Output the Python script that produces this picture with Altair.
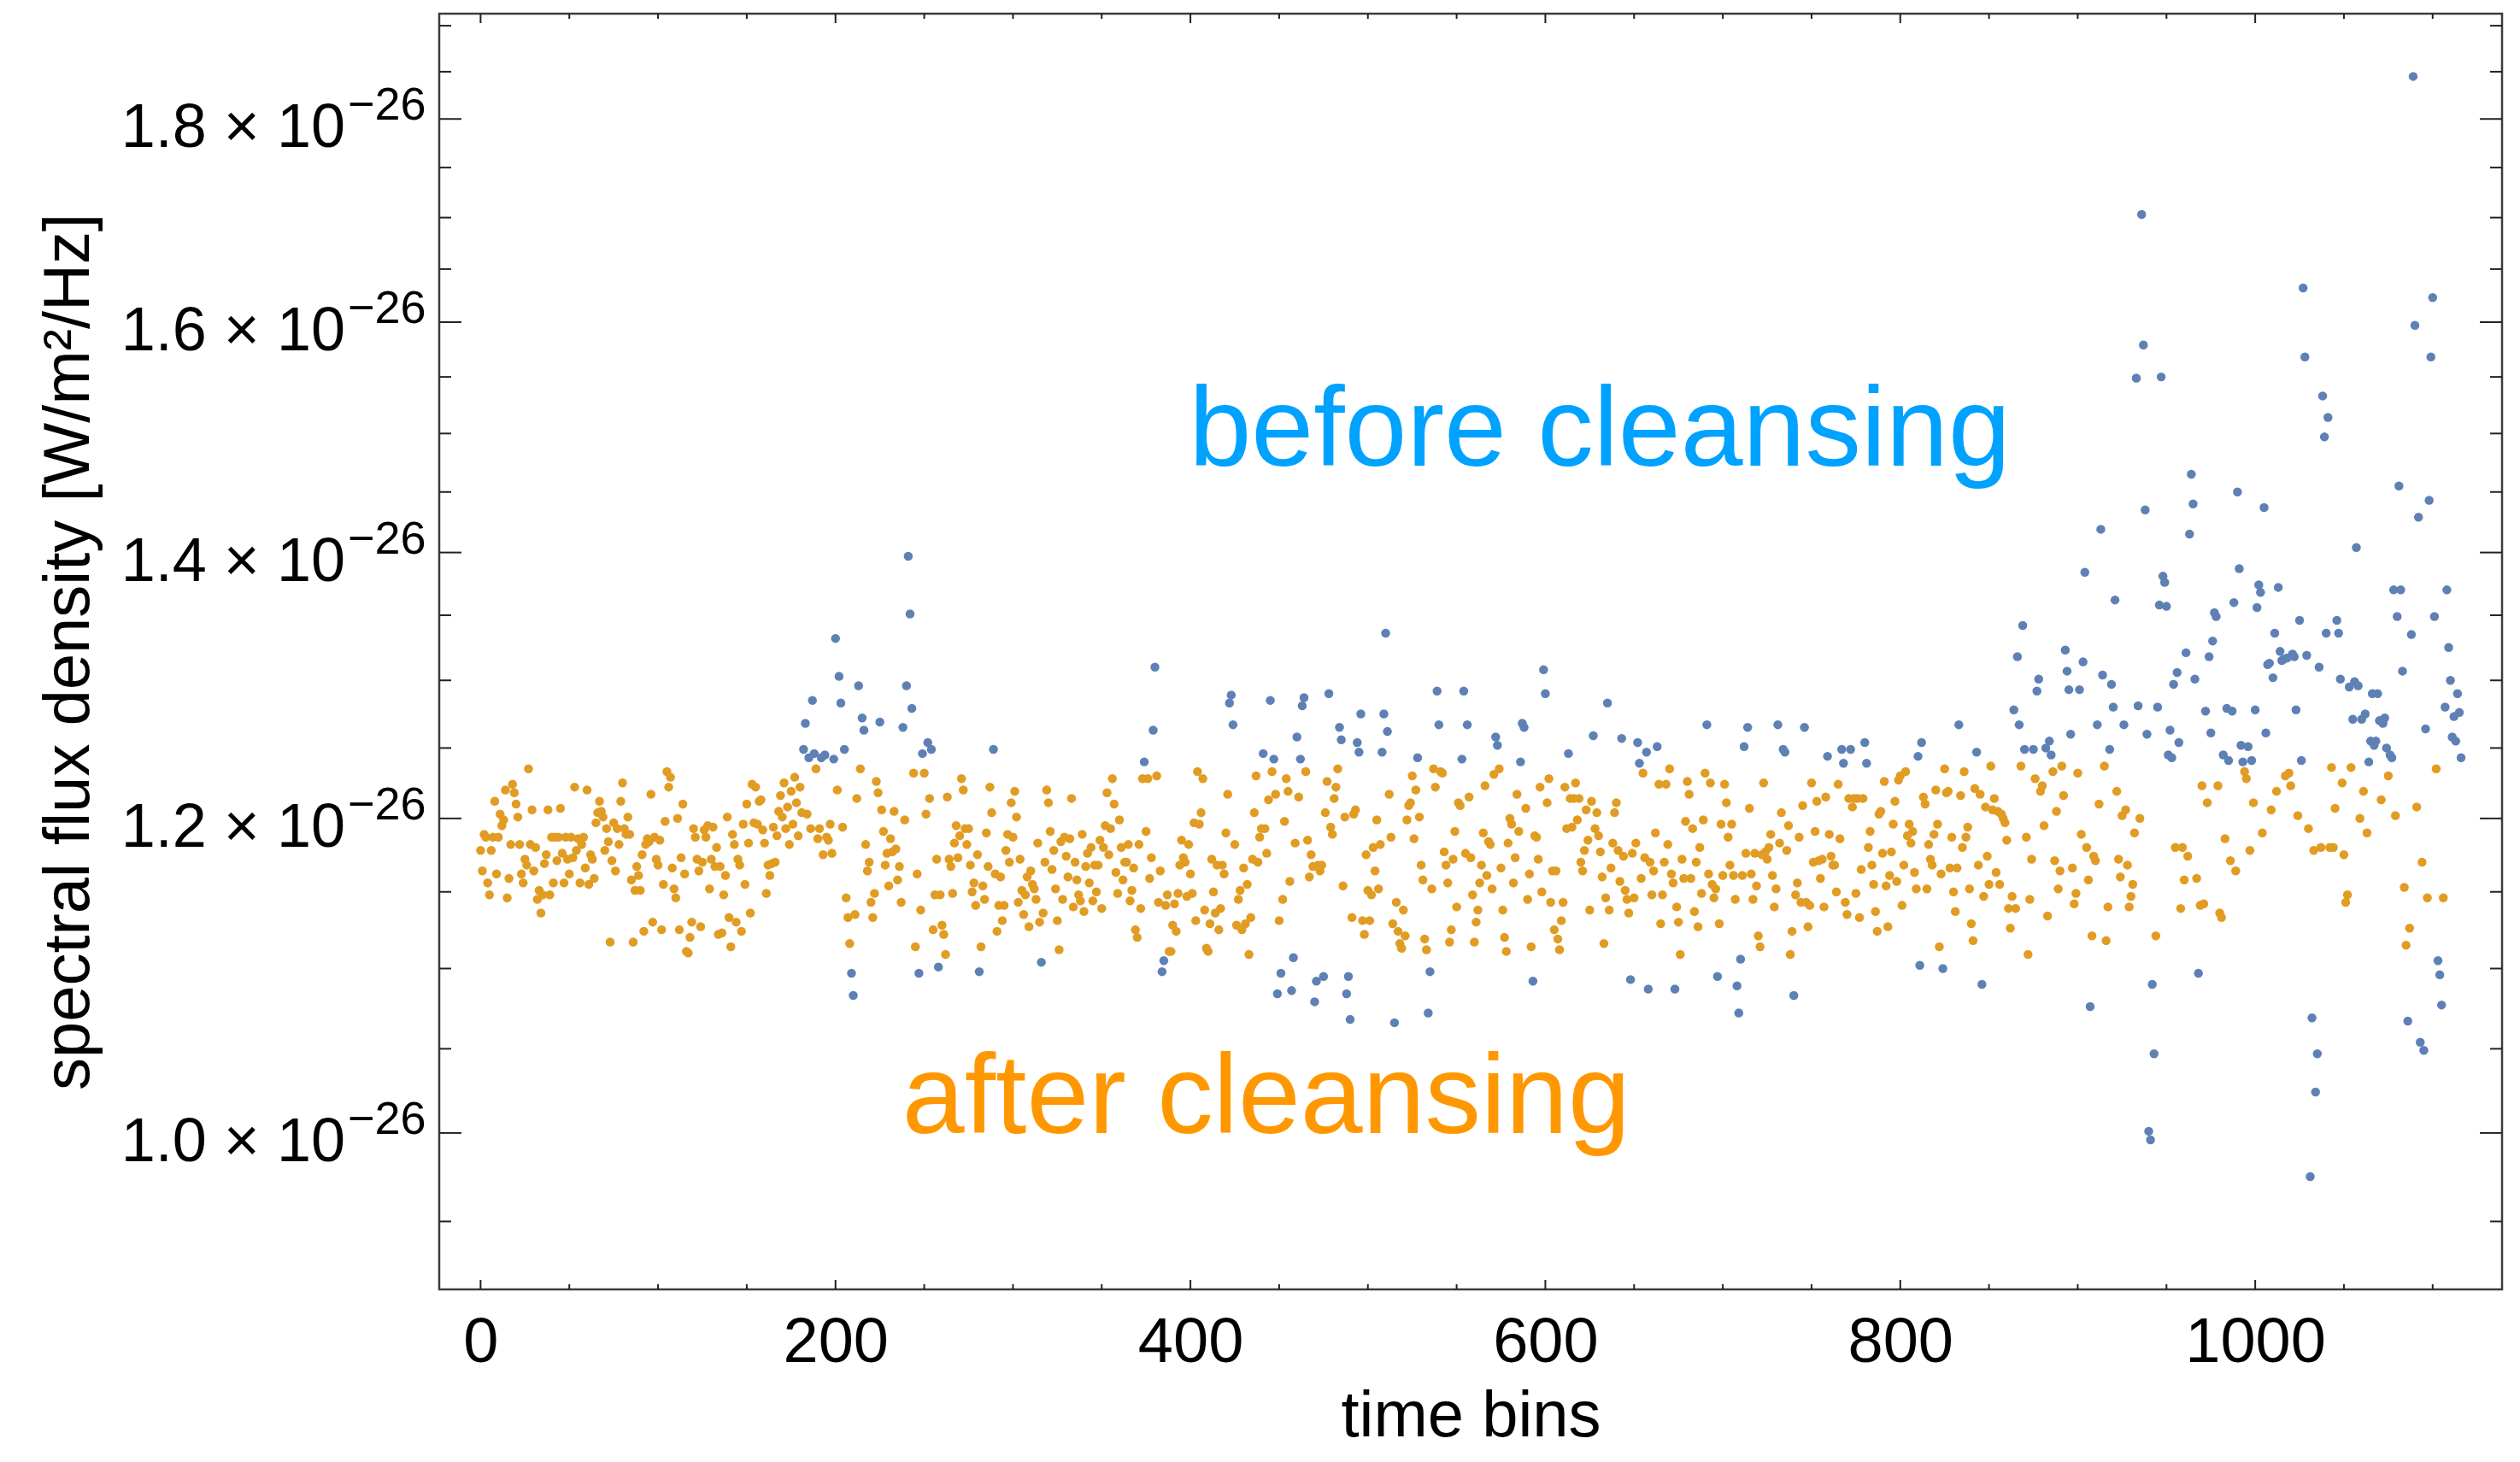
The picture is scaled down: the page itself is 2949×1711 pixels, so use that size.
import altair as alt
import pandas as pd

W, H = 2414, 1493
FONT = "Liberation Sans"
BLUE = "#5E81B5"
ORANGE = "#E19C24"
TICK = "#222222"

# spectral flux density per time bin, in units of 1e-26 W/m^2/Hz (bins 0..1116)
flux = [
    1.178, 1.164, 1.189, 1.187, 1.156, 1.148, 1.178, 1.187, 1.212, 1.162,
    1.187, 1.203, 1.195, 1.199, 1.220, 1.146, 1.159, 1.182, 1.224, 1.218,
    1.210, 1.201, 1.182, 1.162, 1.156, 1.172, 1.168, 1.235, 1.182, 1.206,
    1.164, 1.180, 1.145, 1.151, 1.136, 1.148, 1.169, 1.175, 1.206, 1.148,
    1.187, 1.156, 1.187, 1.171, 1.187, 1.207, 1.176, 1.156, 1.187, 1.172,
    1.162, 1.187, 1.173, 1.222, 1.178, 1.186, 1.156, 1.182, 1.187, 1.166,
    1.220, 1.155, 1.175, 1.172, 1.159, 1.197, 1.204, 1.212, 1.205, 1.201,
    1.178, 1.193, 1.184, 1.117, 1.171, 1.197, 1.164, 1.193, 1.182, 1.212,
    1.225, 1.193, 1.189, 1.201, 1.189, 1.158, 1.117, 1.151, 1.167, 1.161,
    1.151, 1.175, 1.124, 1.182, 1.186, 1.184, 1.217, 1.130, 1.187, 1.172,
    1.168, 1.185, 1.125, 1.155, 1.198, 1.233, 1.222, 1.229, 1.166, 1.152,
    1.146, 1.200, 1.125, 1.173, 1.210, 1.162, 1.111, 1.110, 1.120, 1.130,
    1.193, 1.187, 1.172, 1.164, 1.127, 1.170, 1.192, 1.187, 1.195, 1.152,
    1.172, 1.194, 1.167, 1.180, 1.122, 1.167, 1.123, 1.148, 1.161, 1.201,
    1.133, 1.114, 1.189, 1.182, 1.130, 1.172, 1.168, 1.124, 1.196, 1.155,
    1.210, 1.183, 1.136, 1.224, 1.197, 1.222, 1.196, 1.212, 1.213, 1.192,
    1.183, 1.149, 1.168, 1.161, 1.169, 1.194, 1.170, 1.188, 1.205, 1.216,
    1.201, 1.225, 1.193, 1.208, 1.182, 1.219, 1.196, 1.229, 1.211, 1.188,
    1.222, 1.204, 1.249, 1.268, 1.203, 1.243, 1.193, 1.285, 1.246, 1.235,
    1.186, 1.193, 1.243, 1.175, 1.245, 1.187, 1.185, 1.196, 1.176, 1.242,
    1.332, 1.220, 1.303, 1.283, 1.194, 1.249, 1.146, 1.133, 1.116, 1.097,
    1.083, 1.135, 1.214, 1.296, 1.235, 1.272, 1.263, 1.182, 1.164, 1.170,
    1.143, 1.133, 1.149, 1.226, 1.218, 1.269, 1.206, 1.191, 1.168, 1.176,
    1.154, 1.186, 1.177, 1.205, 1.179, 1.158, 1.167, 1.143, 1.265, 1.199,
    1.296, 1.397, 1.351, 1.279, 1.232, 1.114, 1.162, 1.097, 1.138, 1.246,
    1.232, 1.203, 1.254, 1.214, 1.249, 1.125, 1.148, 1.172, 1.101, 1.148,
    1.128, 1.122, 1.109, 1.215, 1.172, 1.167, 1.149, 1.183, 1.195, 1.173,
    1.188, 1.228, 1.220, 1.193, 1.182, 1.193, 1.168, 1.150, 1.156, 1.141,
    1.175, 1.098, 1.114, 1.154, 1.145, 1.190, 1.167, 1.222, 1.204, 1.249,
    1.162, 1.124, 1.141, 1.160, 1.131, 1.141, 1.178, 1.189, 1.170, 1.211,
    1.187, 1.219, 1.201, 1.143, 1.172, 1.151, 1.135, 1.148, 1.160, 1.127,
    1.164, 1.155, 1.152, 1.145, 1.183, 1.130, 1.104, 1.136, 1.170, 1.220,
    1.211, 1.191, 1.165, 1.178, 1.152, 1.131, 1.112, 1.184, 1.145, 1.187,
    1.174, 1.160, 1.186, 1.214, 1.140, 1.170, 1.158, 1.148, 1.144, 1.189,
    1.137, 1.167, 1.176, 1.156, 1.180, 1.144, 1.168, 1.150, 1.168, 1.185,
    1.139, 1.180, 1.195, 1.218, 1.175, 1.193, 1.228, 1.210, 1.163, 1.149,
    1.199, 1.180, 1.158, 1.170, 1.170, 1.182, 1.144, 1.151, 1.166, 1.125,
    1.120, 1.182, 1.139, 1.228, 1.240, 1.191, 1.228, 1.159, 1.173, 1.263,
    1.310, 1.230, 1.143, 1.164, 1.098, 1.105, 1.141, 1.148, 1.111, 1.111,
    1.128, 1.142, 1.124, 1.149, 1.168, 1.185, 1.173, 1.170, 1.147, 1.182,
    1.162, 1.149, 1.197, 1.131, 1.233, 1.196, 1.204, 1.228, 1.138, 1.113,
    1.111, 1.129, 1.172, 1.150, 1.136, 1.168, 1.125, 1.139, 1.168, 1.162,
    1.190, 1.217, 1.283, 1.289, 1.267, 1.182, 1.128, 1.145, 1.151, 1.125,
    1.166, 1.129, 1.155, 1.109, 1.133, 1.172, 1.204, 1.230, 1.170, 1.187,
    1.193, 1.246, 1.193, 1.176, 1.213, 1.285, 1.233, 1.242, 1.217, 1.084,
    1.131, 1.097, 1.145, 1.198, 1.228, 1.219, 1.157, 1.086, 1.107, 1.183,
    1.258, 1.215, 1.242, 1.281, 1.287, 1.233, 1.185, 1.160, 1.175, 1.167,
    1.079, 1.092, 1.168, 1.164, 1.168, 1.095, 1.204, 1.226, 1.290, 1.194,
    1.189, 1.214, 1.222, 1.235, 1.265, 1.256, 1.154, 1.201, 1.084, 1.095,
    1.068, 1.133, 1.203, 1.206, 1.254, 1.247, 1.275, 1.131, 1.122, 1.175,
    1.151, 1.131, 1.148, 1.180, 1.164, 1.199, 1.152, 1.182, 1.247, 1.275,
    1.336, 1.262, 1.217, 1.187, 1.129, 1.066, 1.143, 1.124, 1.116, 1.113,
    1.138, 1.121, 1.199, 1.209, 1.211, 1.230, 1.186, 1.220, 1.243, 1.201,
    1.168, 1.158, 1.119, 1.112, 1.072, 1.098, 1.152, 1.235, 1.222, 1.292,
    1.267, 1.233, 1.232, 1.177, 1.168, 1.156, 1.117, 1.125, 1.172, 1.191,
    1.140, 1.211, 1.209, 1.242, 1.292, 1.176, 1.267, 1.215, 1.173, 1.148,
    1.117, 1.130, 1.138, 1.156, 1.168, 1.190, 1.223, 1.161, 1.184, 1.182,
    1.152, 1.231, 1.258, 1.252, 1.235, 1.166, 1.138, 1.120, 1.111, 1.183,
    1.200, 1.196, 1.156, 1.173, 1.217, 1.191, 1.240, 1.268, 1.265, 1.207,
    1.145, 1.162, 1.114, 1.092, 1.188, 1.187, 1.172, 1.222, 1.150, 1.308,
    1.290, 1.211, 1.228, 1.143, 1.164, 1.125, 1.164, 1.119, 1.112, 1.131,
    1.143, 1.222, 1.193, 1.246, 1.214, 1.194, 1.214, 1.225, 1.199, 1.214,
    1.170, 1.164, 1.178, 1.206, 1.185, 1.138, 1.212, 1.259, 1.193, 1.204,
    1.188, 1.177, 1.160, 1.116, 1.146, 1.283, 1.138, 1.166, 1.183, 1.204,
    1.211, 1.178, 1.157, 1.257, 1.174, 1.151, 1.145, 1.136, 1.093, 1.176,
    1.146, 1.183, 1.254, 1.239, 1.159, 1.232, 1.173, 1.247, 1.087, 1.170,
    1.148, 1.164, 1.190, 1.251, 1.224, 1.129, 1.148, 1.170, 1.224, 1.182,
    1.235, 1.162, 1.156, 1.087, 1.140, 1.130, 1.109, 1.172, 1.159, 1.198,
    1.226, 1.217, 1.159, 1.193, 1.137, 1.170, 1.127, 1.180, 1.149, 1.199,
    1.232, 1.267, 1.162, 1.225, 1.155, 1.146, 1.152, 1.095, 1.129, 1.196,
    1.161, 1.224, 1.211, 1.187, 1.168, 1.196, 1.161, 1.145, 1.089, 1.072,
    1.106, 1.161, 1.251, 1.176, 1.265, 1.207, 1.162, 1.145, 1.176, 1.154,
    1.121, 1.114, 1.175, 1.225, 1.177, 1.172, 1.180, 1.189, 1.161, 1.140,
    1.152, 1.267, 1.183, 1.204, 1.249, 1.247, 1.178, 1.195, 1.109, 1.124,
    1.083, 1.148, 1.156, 1.187, 1.143, 1.209, 1.265, 1.143, 1.127, 1.141,
    1.225, 1.170, 1.191, 1.212, 1.171, 1.159, 1.172, 1.140, 1.215, 1.244,
    1.189, 1.174, 1.168, 1.168, 1.150, 1.224, 1.186, 1.249, 1.239, 1.143,
    1.135, 1.214, 1.249, 1.208, 1.214, 1.149, 1.214, 1.133, 1.165, 1.214,
    1.254, 1.239, 1.180, 1.191, 1.168, 1.155, 1.137, 1.124, 1.203, 1.205,
    1.176, 1.226, 1.154, 1.127, 1.161, 1.177, 1.196, 1.212, 1.157, 1.227,
    1.230, 1.141, 1.168, 1.233, 1.188, 1.196, 1.183, 1.191, 1.163, 1.152,
    1.244, 1.102, 1.254, 1.215, 1.210, 1.152, 1.182, 1.172, 1.168, 1.189,
    1.220, 1.196, 1.114, 1.162, 1.100, 1.235, 1.218, 1.219, 1.166, 1.187,
    1.150, 1.137, 1.166, 1.267, 1.216, 1.180, 1.233, 1.187, 1.194, 1.152,
    1.129, 1.118, 1.221, 1.247, 1.168, 1.217, 1.090, 1.147, 1.208, 1.174,
    1.155, 1.237, 1.206, 1.214, 1.163, 1.205, 1.155, 1.203, 1.200, 1.197,
    1.185, 1.139, 1.126, 1.147, 1.278, 1.139, 1.318, 1.267, 1.237, 1.342,
    1.249, 1.187, 1.109, 1.145, 1.172, 1.249, 1.228, 1.292, 1.301, 1.219,
    1.223, 1.195, 1.250, 1.134, 1.255, 1.245, 1.233, 1.171, 1.205, 1.152,
    1.164, 1.237, 1.216, 1.323, 1.307, 1.293, 1.260, 1.166, 1.142, 1.149,
    1.232, 1.293, 1.189, 1.314, 1.384, 1.180, 1.158, 1.076, 1.121, 1.174,
    1.171, 1.267, 1.210, 1.419, 1.304, 1.237, 1.118, 1.140, 1.249, 1.297,
    1.280, 1.362, 1.219, 1.172, 1.160, 1.202, 1.267, 1.206, 1.168, 1.140,
    1.147, 1.155, 1.190, 1.549, 1.281, 1.200, 1.703, 1.579, 1.435, 1.260,
    1.001, 0.996, 1.090, 1.047, 1.121, 1.280, 1.358, 1.550, 1.381, 1.376,
    1.357, 1.245, 1.263, 1.243, 1.297, 1.180, 1.306, 1.254, 1.139, 1.180,
    1.158, 1.321, 1.174, 1.415, 1.465, 1.440, 1.301, 1.159, 1.097, 1.141,
    1.223, 1.142, 1.277, 1.211, 1.318, 1.261, 1.330, 1.352, 1.349, 1.223,
    1.136, 1.133, 1.245, 1.186, 1.279, 1.241, 1.171, 1.277, 1.360, 1.164,
    1.450, 1.387, 1.252, 1.240, 1.233, 1.228, 1.251, 1.178, 1.241, 1.211,
    1.278, 1.356, 1.374, 1.368, 1.190, 1.437, 1.261, 1.312, 1.313, 1.206,
    1.302, 1.336, 1.219, 1.372, 1.322, 1.315, 1.316, 1.230, 1.317, 1.232,
    1.223, 1.320, 1.318, 1.278, 1.202, 1.346, 1.241, 1.632, 1.568, 1.319,
    1.193, 0.975, 1.069, 1.178, 1.024, 1.047, 1.310, 1.180, 1.533, 1.497,
    1.336, 1.514, 1.180, 1.236, 1.180, 1.207, 1.346, 1.336, 1.301, 1.225,
    1.175, 1.143, 1.148, 1.295, 1.236, 1.271, 1.299, 1.404, 1.296, 1.200,
    1.271, 1.219, 1.275, 1.190, 1.240, 1.255, 1.290, 1.252, 1.255, 1.290,
    1.270, 1.213, 1.268, 1.272, 1.250, 1.230, 1.245, 1.243, 1.370, 1.202,
    1.349, 1.455, 1.370, 1.307, 1.153, 1.115, 1.067, 1.126, 1.335, 1.845,
    1.597, 1.208, 1.429, 1.054, 1.170, 1.049, 1.264, 1.146, 1.443, 1.568,
    1.623, 1.349, 1.235, 1.105, 1.096, 1.077, 1.146, 1.280, 1.370, 1.325,
    1.300, 1.258, 1.273, 1.255, 1.290, 1.276, 1.243,
]

# time bins removed by the cleansing (shown only in the "before" series)
removed_bins = [
    182, 183, 185, 187, 188, 192, 194, 199, 200, 202, 203, 205, 209, 210, 213,
    215, 216, 225, 238, 240, 241, 242, 243, 247, 249, 252, 254, 258, 281, 289,
    316, 374, 379, 380, 384, 385, 422, 423, 424, 441, 445, 447, 449, 451, 457,
    458, 460, 462, 463, 464, 470, 471, 475, 478, 484, 485, 488, 489, 490, 494,
    495, 496, 508, 509, 510, 511, 515, 528, 534, 535, 539, 540, 553, 554, 556,
    572, 573, 586, 587, 588, 593, 599, 600, 613, 627, 635, 643, 648, 652, 653,
    657, 658, 663, 673, 691, 697, 708, 709, 710, 712, 714, 731, 734, 735, 740,
    746, 759, 767, 768, 772, 780, 781, 810, 811, 812, 824, 833, 843, 846, 864,
    866, 867, 869, 870, 875, 877, 878, 882, 884, 885, 893, 894, 895, 896, 901,
    903, 904, 907, 911, 913, 914, 918, 919, 920, 921, 926, 933, 934, 936, 937,
    938, 939, 940, 941, 942, 943, 945, 946, 947, 948, 949, 950, 951, 952, 953,
    954, 956, 957, 961, 963, 964, 965, 966, 968, 972, 974, 975, 976, 977, 978,
    982, 984, 985, 987, 988, 990, 991, 992, 993, 996, 998, 1000, 1001, 1002,
    1003, 1005, 1006, 1007, 1008, 1010, 1011, 1013, 1014, 1015, 1016, 1018,
    1021, 1022, 1023, 1025, 1026, 1027, 1028, 1029, 1031, 1032, 1034, 1035,
    1036, 1038, 1039, 1040, 1041, 1046, 1047, 1048, 1053, 1055, 1056, 1057,
    1058, 1060, 1062, 1064, 1065, 1066, 1067, 1068, 1069, 1070, 1072, 1073,
    1074, 1076, 1077, 1078, 1080, 1081, 1082, 1083, 1086, 1088, 1089, 1090,
    1092, 1093, 1095, 1096, 1098, 1099, 1100, 1101, 1103, 1104, 1105, 1107,
    1108, 1109, 1110, 1111, 1112, 1113, 1114, 1115, 1116,
]

x_major = [0, 200, 400, 600, 800, 1000]
x_minor = [50, 100, 150, 250, 300, 350, 450, 500, 550, 650, 700, 750,
           850, 900, 950, 1050, 1100]
y_major = [1.0, 1.2, 1.4, 1.6, 1.8]
y_major_text = ["1.0 \u00d7 10", "1.2 \u00d7 10", "1.4 \u00d7 10", "1.6 \u00d7 10", "1.8 \u00d7 10"]
y_exponent = "\u221226"
y_minor = [0.95, 1.05, 1.1, 1.15, 1.25, 1.3, 1.35, 1.45, 1.5, 1.55, 1.65,
           1.7, 1.75, 1.85, 1.9]

# ---------------------------------------------------------------- tables
removed_set = set(removed_bins)
df = pd.DataFrame({"bin": list(range(len(flux))), "flux": flux})
df_before = df[df["bin"].isin(removed_set)]
df_after = df[~df["bin"].isin(removed_set)]

xs = alt.Scale(domain=[-23.3, 1139.1], nice=False, zero=False)
ys = alt.Scale(type="log", domain=[0.9133, 1.9133], nice=False)

x_axis = alt.Axis(
    values=x_major, ticks=False, tickSize=0, domain=False, grid=False,
    labelFont=FONT, labelFontSize=74, labelColor="black", labelPadding=84,
    labelBaseline="alphabetic", labelFlush=False, labelOverlap=False, format="d",
    titleFont=FONT, titleFontSize=76, titleFontWeight="normal", titleColor="black",
    titleBaseline="alphabetic", titleY=171, titleX=W / 2, titleAlign="center",
)
y_axis = alt.Axis(
    labels=False, ticks=False, tickSize=0, domain=False, grid=False,
    titleFont=FONT, titleFontSize=76, titleFontWeight="normal", titleColor="black",
    titleAngle=270, titleBaseline="alphabetic", titleAlign="center",
    titleX=-411, titleY=H / 2,
)

X = alt.X("bin:Q", scale=xs, axis=x_axis, title="time bins")
Y = alt.Y("flux:Q", scale=ys, axis=y_axis, title="spectral flux density [W/m\u00b2/Hz]")

before = alt.Chart(df_before).mark_circle(size=110, opacity=1, color=BLUE).encode(x=X, y=Y)
after = alt.Chart(df_after).mark_circle(size=110, opacity=1, color=ORANGE).encode(x=X, y=Y)

ymaj = pd.DataFrame({"flux": y_major, "label": y_major_text})
ymin = pd.DataFrame({"flux": y_minor})
xmaj = pd.DataFrame({"bin": x_major})
xmin = pd.DataFrame({"bin": x_minor})


def yrule(data, x0, x1):
    return alt.Chart(data).mark_rule(color=TICK, strokeWidth=2).encode(
        y=Y, x=alt.value(x0), x2=alt.value(x1))


def xrule(data, y0, y1):
    return alt.Chart(data).mark_rule(color=TICK, strokeWidth=2).encode(
        x=X, y=alt.value(y0), y2=alt.value(y1))


ticks = [
    yrule(ymaj, 0, 26), yrule(ymin, 0, 14),
    yrule(ymaj, W - 26, W), yrule(ymin, W - 14, W),
    xrule(xmaj, H - 11, H), xrule(xmin, H - 6, H),
    xrule(xmaj, 0, 11), xrule(xmin, 0, 6),
]

ylab_main = alt.Chart(ymaj).mark_text(
    align="right", baseline="alphabetic", dy=33, fontSize=72, font=FONT, color="black"
).encode(y=Y, x=alt.value(-110), text="label:N")
ylab_exp = alt.Chart(ymaj).mark_text(
    align="left", baseline="alphabetic", dy=1, fontSize=54, font=FONT, color="black"
).encode(y=Y, x=alt.value(-107), text=alt.value(y_exponent))

ann_before = alt.Chart(pd.DataFrame({"bin": [399.2], "flux": [1.4722], "label": ["before cleansing"]})).mark_text(
    align="left", baseline="alphabetic", fontSize=131, font=FONT, color="#00A2FF"
).encode(x=X, y=Y, text="label:N")
ann_after = alt.Chart(pd.DataFrame({"bin": [237.6], "flux": [1.0], "label": ["after cleansing"]})).mark_text(
    align="left", baseline="alphabetic", fontSize=131, font=FONT, color="#FF9800"
).encode(x=X, y=Y, text="label:N")

chart = alt.layer(
    before, after, *ticks, ylab_main, ylab_exp, ann_before, ann_after
).properties(
    width=W, height=H,
    autosize=alt.AutoSizeParams(type="none"),
    padding={"left": 506, "top": 8, "right": 5, "bottom": 189},
    background="white",
).configure_view(stroke="#3c3c3c", strokeWidth=2.5)

chart.save("out.html", embed_options={"renderer": "svg", "actions": False})
